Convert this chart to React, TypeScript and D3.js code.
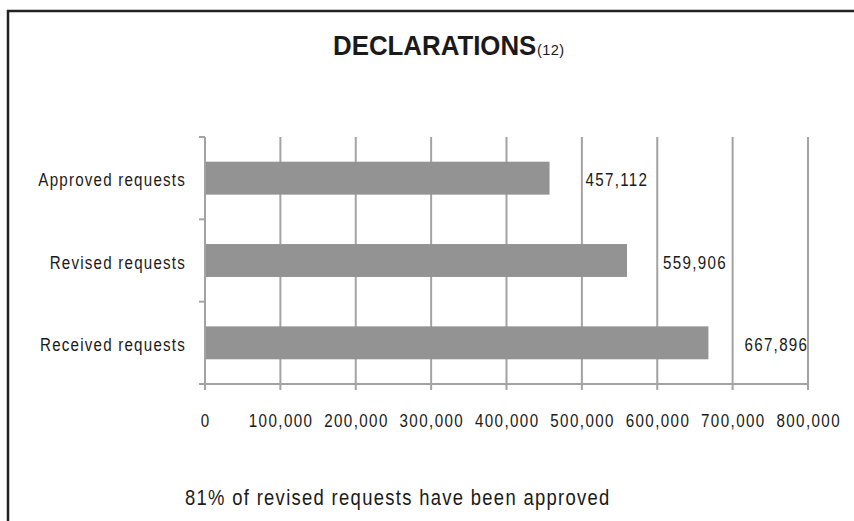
import React from "react";
import * as d3 from "d3";

const categories = ["Approved requests", "Revised requests", "Received requests"];
const values = [457112, 559906, 667896];
const xTicks = [0, 100000, 200000, 300000, 400000, 500000, 600000, 700000, 800000];
const title = "DECLARATIONS";
const titleNote = "(12)";
const footer = "81% of revised requests have been approved";

const W = 854;
const H = 521;
const FONT = "'Liberation Sans', Arial, sans-serif";

function NText(props: {
  x: number;
  y: number;
  size: number;
  sx?: number;
  spacing?: number;
  anchor?: "start" | "middle" | "end";
  bold?: boolean;
  children: React.ReactNode;
}) {
  const { x, y, size, sx = 0.82, spacing = 0, anchor = "start", bold = false, children } = props;
  return (
    <text
      transform={`translate(${x},${y}) scale(${sx},1)`}
      textAnchor={anchor}
      fontFamily={FONT}
      fontSize={size}
      fontWeight={bold ? "bold" : "normal"}
      letterSpacing={spacing / sx}
      fill="#1a1a1a"
    >
      {children}
    </text>
  );
}

export default function App() {
  const x = d3.scaleLinear().domain([0, 800000]).range([205, 808]);
  const y = d3.scaleBand<string>().domain(categories).range([137, 384]).paddingInner(0.6).paddingOuter(0.3);
  const fmt = d3.format(",");
  const step = y.step();
  const bounds = d3.range(categories.length + 1).map((i) => 137 + i * step);
  const gridCol = "#a3a3a3";

  return (
    <svg width={W} height={H} style={{ position: "absolute", left: 0, top: 0, background: "#fff" }}>
      <rect x={0} y={0} width={W} height={H} fill="#fff" />
      {/* frame */}
      <line x1={7} x2={W} y1={11} y2={11} stroke="#222" strokeWidth={2.5} />
      <line x1={8} x2={8} y1={10} y2={H} stroke="#222" strokeWidth={2.5} />

      {/* title */}
      <NText x={333} y={55} size={27.5} sx={0.94} bold>
        {title}
      </NText>
      <text x={537} y={55} fontFamily={FONT} fontSize={14.5} letterSpacing={0.4} fill="#1a1a1a">
        {titleNote}
      </text>

      {/* gridlines */}
      {xTicks.slice(1).map((t) => (
        <line key={t} x1={x(t)} x2={x(t)} y1={137} y2={384} stroke={gridCol} strokeWidth={2} />
      ))}

      {/* bars */}
      {categories.map((c, i) => (
        <rect key={c} x={x(0)} y={y(c)} width={x(values[i]) - x(0)} height={y.bandwidth()} fill="#939393" />
      ))}

      {/* axes */}
      <line x1={x(0)} x2={x(0)} y1={137} y2={384} stroke={gridCol} strokeWidth={2} />
      {bounds.map((b, i) => (
        <line key={i} x1={199} x2={x(0)} y1={b} y2={b} stroke={gridCol} strokeWidth={2} />
      ))}
      <line x1={199} x2={x(800000)} y1={384} y2={384} stroke={gridCol} strokeWidth={2} />
      {xTicks.map((t) => (
        <line key={t} x1={x(t)} x2={x(t)} y1={384} y2={390} stroke={gridCol} strokeWidth={2} />
      ))}

      {/* x tick labels */}
      {xTicks.map((t) => (
        <NText key={t} x={x(t) + 0.7} y={427} size={18.5} spacing={1.4} anchor="middle">
          {fmt(t)}
        </NText>
      ))}

      {/* category labels */}
      {categories.map((c) => (
        <NText key={c} x={186} y={(y(c) as number) + y.bandwidth() / 2 + 8} size={18.5} spacing={1.2} anchor="end">
          {c}
        </NText>
      ))}

      {/* value labels */}
      {categories.map((c, i) => (
        <NText key={c} x={x(values[i]) + 36} y={(y(c) as number) + y.bandwidth() / 2 + 8} size={18.5} spacing={1.3}>
          {fmt(values[i])}
        </NText>
      ))}

      {/* footer */}
      <NText x={185} y={505} size={22.5} sx={0.82} spacing={1.3}>
        {footer}
      </NText>
    </svg>
  );
}
